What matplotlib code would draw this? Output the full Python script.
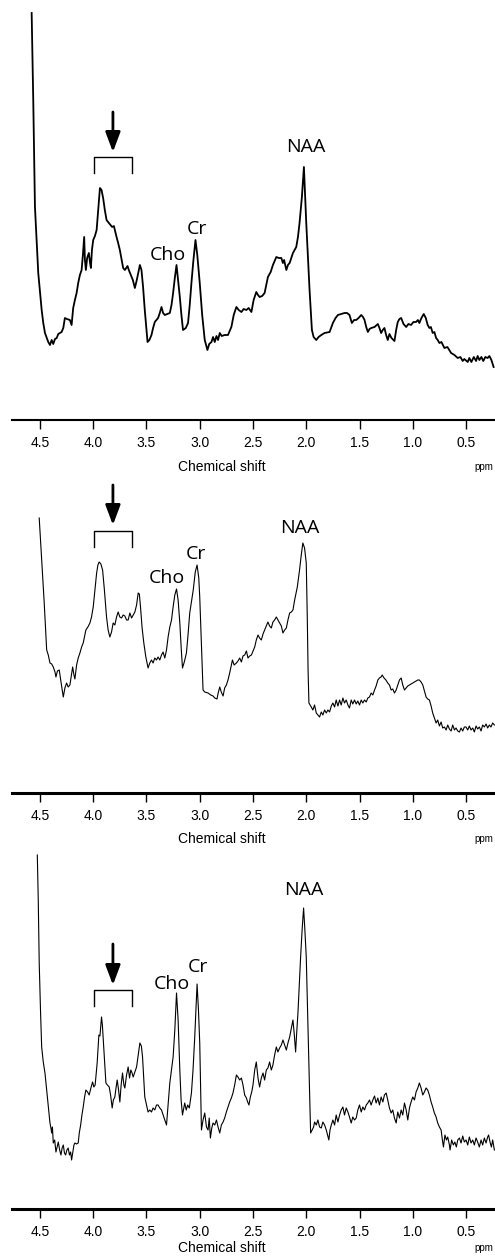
import numpy as np
import matplotlib
matplotlib.use("Agg")
import matplotlib.pyplot as plt

# ---- данные (ppm, интенсивность в усл. ед.) ----
top_pts = [
    (4.578, 407), (4.563, 320), (4.547, 213), (4.516, 147), (4.484, 110), (4.469, 97),
    (4.453, 87), (4.422, 78), (4.406, 75), (4.390, 80), (4.375, 76), (4.359, 81),
    (4.343, 82), (4.328, 86), (4.312, 87), (4.297, 88), (4.281, 92), (4.266, 102),
    (4.247, 101), (4.219, 100), (4.203, 95), (4.188, 112), (4.172, 120), (4.156, 127),
    (4.141, 137), (4.125, 145), (4.109, 150), (4.097, 165), (4.085, 183), (4.078, 160),
    (4.069, 150), (4.057, 162), (4.041, 167), (4.031, 158), (4.022, 152), (4.012, 170),
    (4.000, 180), (3.984, 184), (3.968, 190), (3.953, 210), (3.937, 232), (3.922, 230),
    (3.907, 222), (3.891, 210), (3.875, 200), (3.853, 197), (3.822, 193), (3.806, 194),
    (3.781, 183), (3.766, 177), (3.750, 170), (3.719, 152), (3.703, 150), (3.678, 154),
    (3.666, 150), (3.647, 145), (3.628, 140), (3.609, 132), (3.591, 140), (3.562, 155),
    (3.547, 150), (3.532, 133), (3.516, 110), (3.490, 78), (3.473, 80), (3.453, 85),
    (3.438, 92), (3.422, 98), (3.391, 102), (3.375, 107), (3.359, 113), (3.344, 107),
    (3.328, 105), (3.281, 107), (3.265, 115), (3.250, 127), (3.234, 142), (3.218, 155),
    (3.203, 140), (3.187, 123), (3.172, 105), (3.157, 90), (3.131, 92), (3.110, 97),
    (3.094, 115), (3.078, 137), (3.061, 158), (3.040, 180), (3.023, 165), (3.000, 137),
    (2.977, 105), (2.953, 80), (2.928, 70), (2.911, 76), (2.890, 78), (2.875, 83),
    (2.859, 78), (2.843, 84), (2.828, 80), (2.812, 87), (2.794, 84), (2.766, 85),
    (2.735, 85), (2.703, 93), (2.681, 105), (2.656, 113), (2.634, 110), (2.609, 108),
    (2.588, 111), (2.562, 110), (2.541, 112), (2.515, 108), (2.494, 120), (2.469, 128),
    (2.453, 125), (2.438, 123), (2.414, 124), (2.391, 127), (2.360, 143), (2.334, 148),
    (2.313, 155), (2.281, 163), (2.259, 162), (2.234, 162), (2.219, 157), (2.208, 160),
    (2.187, 150), (2.172, 155), (2.156, 157), (2.125, 167), (2.094, 173), (2.078, 183),
    (2.063, 197), (2.041, 223), (2.022, 253), (2.011, 225), (2.000, 197), (1.985, 165),
    (1.969, 130), (1.947, 90), (1.931, 83), (1.906, 80), (1.884, 83), (1.859, 85),
    (1.828, 87), (1.781, 88), (1.750, 97), (1.725, 102), (1.703, 105), (1.672, 106),
    (1.641, 107), (1.617, 107), (1.594, 105), (1.572, 97), (1.551, 100), (1.531, 100),
    (1.509, 102), (1.484, 105), (1.467, 103), (1.453, 100), (1.437, 93), (1.422, 88),
    (1.406, 91), (1.390, 92), (1.359, 93), (1.328, 96), (1.313, 92), (1.297, 87),
    (1.282, 90), (1.266, 92), (1.250, 85), (1.235, 80), (1.219, 86), (1.200, 82),
    (1.172, 79), (1.156, 90), (1.141, 98), (1.125, 101), (1.109, 102), (1.087, 96),
    (1.062, 93), (1.041, 96), (1.016, 95), (0.994, 98), (0.969, 98), (0.952, 100),
    (0.938, 97), (0.919, 102), (0.897, 106), (0.878, 102), (0.860, 95), (0.844, 92),
    (0.830, 93), (0.813, 87), (0.797, 88), (0.781, 82), (0.766, 80), (0.750, 77),
    (0.731, 78), (0.703, 72), (0.675, 73), (0.640, 67), (0.609, 65), (0.578, 62),
    (0.553, 63), (0.531, 59), (0.516, 61), (0.484, 58), (0.469, 62), (0.450, 58),
    (0.427, 63), (0.406, 59), (0.391, 64), (0.375, 60), (0.356, 63), (0.338, 59),
    (0.319, 63), (0.297, 62), (0.281, 64), (0.262, 60), (0.241, 53),
]

mid_pts = [
    (4.507, 275), (4.484, 233), (4.460, 190), (4.437, 143), (4.422, 138), (4.406, 130),
    (4.390, 129), (4.375, 126), (4.359, 121), (4.350, 116), (4.336, 122), (4.319, 123),
    (4.303, 111), (4.294, 105), (4.281, 96), (4.266, 105), (4.250, 110), (4.235, 106),
    (4.219, 108), (4.205, 118), (4.193, 126), (4.181, 118), (4.172, 114), (4.156, 128),
    (4.141, 135), (4.125, 140), (4.109, 146), (4.094, 150), (4.069, 163), (4.050, 166),
    (4.031, 170), (4.016, 176), (4.000, 186), (3.984, 203), (3.968, 220), (3.956, 228),
    (3.944, 231), (3.928, 229), (3.912, 223), (3.895, 203), (3.875, 176), (3.860, 163),
    (3.844, 156), (3.828, 161), (3.813, 170), (3.797, 168), (3.781, 176), (3.766, 181),
    (3.750, 176), (3.734, 175), (3.719, 178), (3.703, 177), (3.687, 173), (3.672, 173),
    (3.656, 180), (3.640, 175), (3.625, 178), (3.609, 181), (3.593, 188), (3.578, 200),
    (3.567, 199), (3.556, 186), (3.541, 165), (3.525, 150), (3.506, 136), (3.485, 125),
    (3.469, 130), (3.453, 133), (3.438, 130), (3.422, 135), (3.406, 133), (3.391, 136),
    (3.375, 133), (3.359, 138), (3.344, 141), (3.328, 135), (3.312, 143), (3.297, 156),
    (3.281, 166), (3.265, 173), (3.250, 186), (3.234, 198), (3.218, 204), (3.203, 193),
    (3.187, 170), (3.173, 143), (3.162, 125), (3.145, 131), (3.125, 140), (3.110, 158),
    (3.094, 180), (3.075, 193), (3.061, 203), (3.042, 221), (3.025, 228), (3.009, 215),
    (3.000, 196), (2.986, 153), (2.969, 103), (2.953, 101), (2.922, 100), (2.897, 98),
    (2.875, 97), (2.859, 95), (2.838, 94), (2.827, 100), (2.812, 106), (2.798, 101),
    (2.781, 97), (2.766, 105), (2.750, 108), (2.735, 113), (2.719, 120), (2.705, 127),
    (2.693, 133), (2.677, 128), (2.656, 130), (2.641, 132), (2.625, 135), (2.609, 131),
    (2.594, 137), (2.578, 138), (2.562, 142), (2.547, 135), (2.531, 137), (2.515, 138),
    (2.500, 142), (2.484, 146), (2.469, 153), (2.453, 158), (2.438, 155), (2.422, 153),
    (2.406, 159), (2.391, 163), (2.375, 167), (2.360, 171), (2.344, 167), (2.328, 165),
    (2.313, 171), (2.297, 173), (2.281, 176), (2.266, 173), (2.250, 170), (2.234, 167),
    (2.219, 160), (2.203, 163), (2.187, 165), (2.172, 173), (2.156, 180), (2.140, 181),
    (2.125, 183), (2.109, 193), (2.084, 206), (2.063, 223), (2.047, 238), (2.032, 250),
    (2.016, 245), (2.000, 230), (1.990, 173), (1.983, 123), (1.975, 90), (1.964, 88),
    (1.953, 86), (1.938, 83), (1.922, 88), (1.906, 80), (1.891, 78), (1.875, 76),
    (1.859, 81), (1.844, 78), (1.828, 83), (1.812, 80), (1.797, 83), (1.781, 81),
    (1.765, 87), (1.750, 90), (1.734, 86), (1.719, 93), (1.703, 87), (1.687, 93),
    (1.672, 88), (1.656, 95), (1.641, 90), (1.625, 93), (1.609, 88), (1.594, 85),
    (1.578, 93), (1.563, 89), (1.547, 93), (1.531, 89), (1.516, 92), (1.500, 88),
    (1.484, 93), (1.469, 90), (1.453, 93), (1.437, 91), (1.422, 95), (1.406, 96),
    (1.391, 100), (1.375, 98), (1.359, 103), (1.344, 107), (1.328, 113), (1.313, 115),
    (1.298, 116), (1.287, 118), (1.270, 115), (1.252, 113), (1.235, 110), (1.219, 108),
    (1.203, 103), (1.188, 104), (1.172, 100), (1.156, 103), (1.141, 108), (1.125, 113),
    (1.109, 115), (1.094, 108), (1.078, 103), (1.062, 105), (1.047, 107), (1.031, 108),
    (1.016, 109), (1.000, 110), (0.984, 111), (0.969, 112), (0.953, 113), (0.938, 113),
    (0.922, 111), (0.906, 108), (0.891, 102), (0.875, 96), (0.860, 94), (0.844, 93),
    (0.828, 87), (0.813, 80), (0.797, 75), (0.781, 70), (0.766, 73), (0.750, 67),
    (0.734, 71), (0.719, 65), (0.703, 66), (0.687, 63), (0.672, 68), (0.656, 64),
    (0.640, 62), (0.625, 68), (0.609, 63), (0.594, 65), (0.578, 62), (0.562, 61),
    (0.547, 65), (0.531, 62), (0.516, 66), (0.500, 66), (0.484, 63), (0.469, 67),
    (0.453, 63), (0.437, 65), (0.422, 61), (0.406, 67), (0.391, 64), (0.375, 66),
    (0.359, 62), (0.344, 68), (0.328, 66), (0.312, 69), (0.297, 65), (0.281, 68),
    (0.266, 66), (0.250, 70), (0.234, 68),
]

bot_pts = [
    (4.525, 354), (4.516, 309), (4.507, 246), (4.495, 199), (4.484, 162), (4.469, 147),
    (4.453, 136), (4.437, 119), (4.422, 102), (4.414, 94), (4.406, 86), (4.397, 81),
    (4.390, 76), (4.383, 82), (4.375, 66), (4.362, 69), (4.350, 57), (4.337, 63),
    (4.328, 67), (4.315, 59), (4.303, 54), (4.292, 61), (4.281, 64), (4.270, 56),
    (4.259, 54), (4.247, 59), (4.235, 61), (4.223, 54), (4.212, 57), (4.203, 49),
    (4.191, 57), (4.181, 64), (4.172, 66), (4.156, 65), (4.141, 66), (4.131, 76),
    (4.118, 84), (4.106, 94), (4.094, 102), (4.081, 112), (4.069, 119), (4.053, 117),
    (4.038, 114), (4.022, 121), (4.006, 127), (3.994, 122), (3.982, 124), (3.963, 146),
    (3.956, 159), (3.947, 174), (3.937, 173), (3.922, 192), (3.914, 184), (3.907, 172),
    (3.893, 149), (3.881, 126), (3.867, 124), (3.850, 122), (3.837, 114), (3.822, 101),
    (3.811, 109), (3.797, 112), (3.786, 121), (3.775, 129), (3.762, 119), (3.750, 107),
    (3.738, 124), (3.725, 136), (3.712, 124), (3.703, 121), (3.687, 134), (3.672, 142),
    (3.659, 131), (3.647, 139), (3.635, 136), (3.625, 132), (3.609, 137), (3.593, 142),
    (3.578, 154), (3.562, 166), (3.548, 163), (3.537, 152), (3.525, 129), (3.516, 112),
    (3.500, 104), (3.485, 97), (3.469, 99), (3.453, 97), (3.438, 101), (3.422, 99),
    (3.406, 104), (3.391, 104), (3.375, 101), (3.359, 99), (3.344, 94), (3.328, 89),
    (3.312, 84), (3.297, 104), (3.281, 126), (3.265, 139), (3.250, 152), (3.234, 179),
    (3.218, 216), (3.203, 189), (3.187, 139), (3.175, 109), (3.162, 94), (3.150, 101),
    (3.141, 106), (3.127, 99), (3.113, 104), (3.098, 101), (3.078, 116), (3.063, 139),
    (3.047, 172), (3.025, 225), (3.012, 199), (3.000, 166), (2.984, 79), (2.969, 89),
    (2.953, 96), (2.937, 82), (2.922, 79), (2.911, 91), (2.900, 71), (2.887, 81),
    (2.875, 86), (2.859, 84), (2.843, 89), (2.828, 82), (2.812, 76), (2.797, 84),
    (2.781, 87), (2.766, 91), (2.750, 97), (2.735, 102), (2.719, 107), (2.703, 111),
    (2.688, 116), (2.672, 124), (2.656, 134), (2.641, 132), (2.625, 129), (2.609, 131),
    (2.594, 124), (2.578, 114), (2.562, 111), (2.550, 107), (2.538, 104), (2.525, 112),
    (2.512, 117), (2.500, 124), (2.484, 139), (2.469, 147), (2.453, 131), (2.438, 122),
    (2.422, 131), (2.406, 136), (2.391, 129), (2.375, 139), (2.360, 141), (2.344, 147),
    (2.328, 139), (2.313, 144), (2.297, 154), (2.281, 162), (2.266, 157), (2.250, 161),
    (2.234, 164), (2.219, 169), (2.203, 164), (2.187, 159), (2.172, 166), (2.156, 172),
    (2.140, 181), (2.125, 189), (2.112, 174), (2.100, 157), (2.091, 174), (2.078, 196),
    (2.066, 224), (2.053, 252), (2.039, 279), (2.025, 301), (2.013, 279), (2.000, 252),
    (1.988, 199), (1.975, 146), (1.967, 109), (1.959, 76), (1.945, 79), (1.931, 82),
    (1.922, 87), (1.906, 84), (1.891, 89), (1.875, 82), (1.859, 81), (1.844, 87),
    (1.828, 84), (1.812, 79), (1.800, 74), (1.788, 69), (1.777, 79), (1.765, 84),
    (1.750, 89), (1.734, 84), (1.719, 94), (1.703, 87), (1.687, 94), (1.672, 99),
    (1.656, 102), (1.641, 94), (1.625, 101), (1.609, 97), (1.594, 92), (1.578, 86),
    (1.563, 92), (1.547, 89), (1.531, 91), (1.516, 99), (1.500, 104), (1.484, 97),
    (1.469, 102), (1.453, 99), (1.437, 104), (1.422, 106), (1.406, 109), (1.391, 104),
    (1.375, 109), (1.359, 113), (1.344, 106), (1.328, 111), (1.313, 104), (1.297, 112),
    (1.281, 107), (1.266, 114), (1.250, 116), (1.235, 109), (1.219, 101), (1.203, 96),
    (1.188, 99), (1.172, 91), (1.156, 86), (1.141, 97), (1.125, 91), (1.109, 99),
    (1.094, 94), (1.078, 106), (1.062, 99), (1.047, 89), (1.031, 101), (1.016, 107),
    (1.000, 112), (0.984, 109), (0.969, 117), (0.953, 121), (0.938, 126), (0.922, 121),
    (0.906, 114), (0.891, 117), (0.875, 121), (0.860, 119), (0.844, 114), (0.828, 107),
    (0.813, 102), (0.797, 96), (0.781, 92), (0.766, 86), (0.750, 82), (0.734, 79),
    (0.722, 69), (0.712, 62), (0.698, 74), (0.684, 69), (0.672, 72), (0.656, 64),
    (0.650, 59), (0.635, 69), (0.619, 64), (0.605, 67), (0.591, 62), (0.578, 69),
    (0.562, 71), (0.547, 66), (0.531, 73), (0.516, 67), (0.500, 69), (0.484, 64),
    (0.469, 72), (0.453, 66), (0.437, 69), (0.422, 64), (0.406, 71), (0.391, 67),
    (0.375, 62), (0.359, 69), (0.344, 64), (0.328, 71), (0.312, 66), (0.297, 72),
    (0.288, 74), (0.275, 67), (0.262, 62), (0.250, 69), (0.234, 59),
]

tick_ppm = [4.5, 4.0, 3.5, 3.0, 2.5, 2.0, 1.5, 1.0, 0.5]
tick_labels = ["4.5", "4.0", "3.5", "3.0", "2.5", "2.0", "1.5", "1.0", "0.5"]
peak_names = ["NAA", "Cho", "Cr"]
bracket_ppm = (3.99, 3.64)

W, H = 495, 1257
XLIM = (4.7625, 0.2281)

PEAK_FONT = ["Open Sans", "DejaVu Sans"]
AXIS_FONT = ["Liberation Sans", "DejaVu Sans"]


def px_axes(fig, top, bottom):
    """оси по пиксельным координатам картинки"""
    ax = fig.add_axes([12 / W, 1 - bottom / H, (W - 12) / W, (bottom - top) / H])
    ax.set_ylim(0, bottom - top)
    ax.set_xlim(*XLIM)
    return ax


def style_axis(ax, spine_lw):
    for s in ("top", "left", "right"):
        ax.spines[s].set_visible(False)
    ax.spines["bottom"].set_linewidth(spine_lw)
    ax.set_yticks([])
    ax.set_xticks(tick_ppm)
    ax.set_xticklabels(tick_labels, family=AXIS_FONT, fontsize=10)
    ax.tick_params(axis="x", direction="out", length=6.5, width=1.0, pad=5)
    ax.patch.set_visible(False)


def decorate(ax, arrow_top, arrow_tip, br_top, br_leg, labels):
    # скобка над пиком
    x0, x1 = bracket_ppm
    ax.plot([x0, x0, x1, x1], [br_leg, br_top, br_top, br_leg], color="black", lw=1.0)
    xc = (x0 + x1) / 2
    ax.annotate("", xy=(xc, arrow_tip), xytext=(xc, arrow_top),
                arrowprops=dict(arrowstyle="-|>,head_length=1.2,head_width=0.45",
                                lw=2, color="black", shrinkA=0, shrinkB=0,
                                mutation_scale=10))
    for name, (x, y) in zip(peak_names, labels):
        ax.text(x, y, name, ha="center", va="center", fontsize=14, family=PEAK_FONT)


fig = plt.figure(figsize=(W / 100, H / 100), dpi=100)

panels = [
    # точки, верх, ось, толщина линии, толщина оси
    (top_pts, 0, 420, 1.3, 1.5),
    (mid_pts, 470, 793, 0.8, 2.2),
    (bot_pts, 845, 1209, 0.8, 2.2),
]
annots = [
    (308, 268, 263, 247, [(2.006, 273), (3.30, 165), (3.028, 191)]),
    (308, 268, 262, 246, [(2.063, 265), (3.309, 215), (3.038, 239)]),
    (265, 224, 219, 203, [(2.025, 319), (3.262, 225), (3.019, 242)]),
]
label_y = [467, 839, 1248]

for (pts, top, axis_y, lw, spine_lw), ann, ly in zip(panels, annots, label_y):
    ax = px_axes(fig, top, axis_y)
    arr = np.array(pts)
    ax.plot(arr[:, 0], arr[:, 1], color="black", lw=lw, clip_on=False)
    style_axis(ax, spine_lw)
    decorate(ax, *ann)
    fig.text(222 / W, 1 - ly / H, "Chemical shift", ha="center", va="center",
             fontsize=10, family=AXIS_FONT)
    fig.text(493 / W, 1 - ly / H, "ppm", ha="right", va="center",
             fontsize=7, family=AXIS_FONT)

fig.savefig("out.png", dpi=100)
